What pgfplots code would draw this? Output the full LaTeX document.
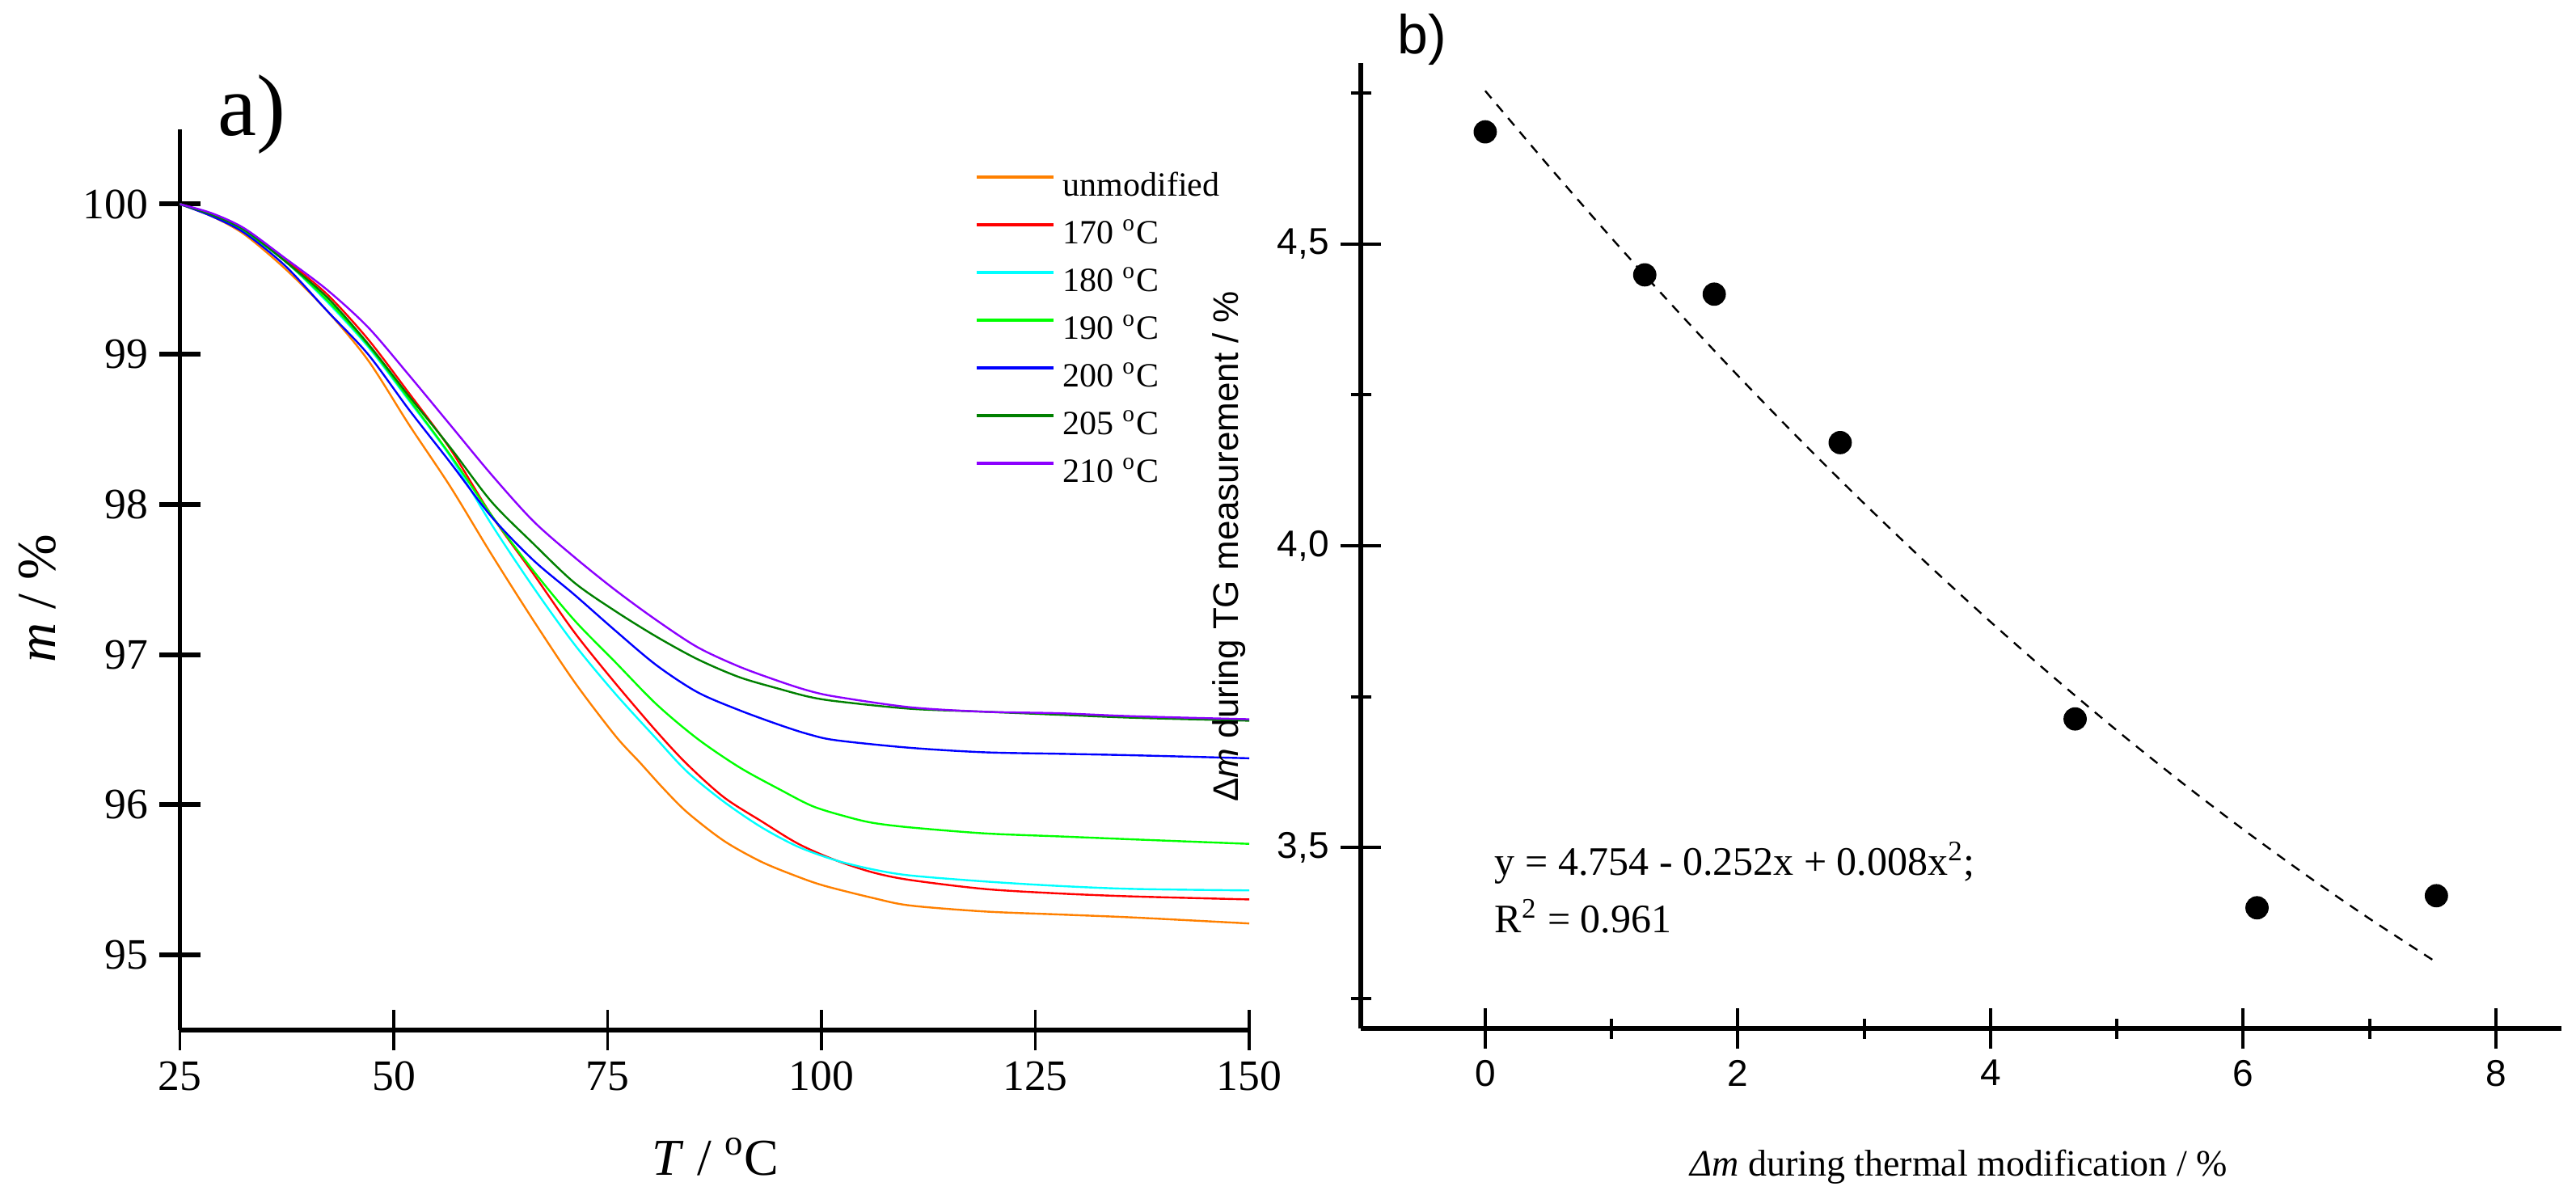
\documentclass[border=0pt]{standalone}
\usepackage{pgfplots}
\pgfplotsset{compat=1.18}
\usepackage{fontspec}
\setmainfont{Liberation Serif}
\newfontfamily\arial{Liberation Sans}
\definecolor{corange}{RGB}{255,128,0}
\definecolor{cred}{RGB}{255,0,0}
\definecolor{ccyan}{RGB}{0,255,255}
\definecolor{cgreen}{RGB}{0,255,0}
\definecolor{cblue}{RGB}{0,0,255}
\definecolor{cdgreen}{RGB}{0,128,0}
\definecolor{cpurple}{RGB}{140,0,255}
\begin{document}
\begin{tikzpicture}
\useasboundingbox (0pt,0pt) rectangle (796.5pt,-369.25pt);
\begin{axis}[
  at={(55.625pt,-318.5pt)}, anchor=south west,
  scale only axis, width=330.625pt, height=278.6pt,
  xmin=25, xmax=150, ymin=94.5, ymax=100.5,
  axis x line=bottom, axis y line=left,
  axis line style={-},
  x axis line style={line width=1.3pt},
  y axis line style={line width=1.2pt},
  tick align=center,
  major tick length=12.5pt,
  xtick={25,50,75,100,125,150},
  ytick={95,96,97,98,99,100},
  minor tick num=0,
  xtick style={line width=0.8pt, black},
  ytick style={line width=1.5pt, black},
  /pgf/number format/assume math mode=true,
  ticklabel style={font=\fontsize{13.4}{15}\selectfont},
  xlabel={\textit{T} / \textsuperscript{o}C},
  ylabel={\textit{m} / \%},
  xlabel style={font=\fontsize{16}{18}\selectfont, at={(axis description cs:0.501,-0.141)}, anchor=center},
  ylabel style={font=\fontsize{17}{19}\selectfont, at={(axis description cs:-0.1335,0.479)}, anchor=center},
  legend style={at={(axis description cs:0.743,0.955)}, anchor=north west, draw=none, fill=none,
    font=\fontsize{10.5}{12}\selectfont, inner sep=0pt, row sep=4.75pt, column sep=2.5pt,
    nodes={inner sep=0pt, text height=8pt, text depth=2pt}},
  legend cell align=left,
  legend image code/.code={\draw[#1, line width=1pt] (0pt,3pt) -- (23.75pt,3pt);},
  every axis plot/.append style={line width=0.6pt, smooth, tension=0.5},
]
\addplot[corange] coordinates {(25,100) (28.7,99.92) (32.5,99.80) (37.3,99.57) (42.2,99.29) (47.0,98.96) (51.8,98.53) (56.6,98.12) (61.4,97.67) (66.3,97.23) (71.1,96.82) (75.9,96.46) (78.8,96.28) (81.5,96.11) (84.3,95.95) (88.6,95.76) (93.0,95.62) (97.3,95.52) (100.4,95.46) (106.0,95.38) (110.3,95.33) (119.0,95.29) (127.7,95.27) (136.4,95.25) (150,95.21)};
\addlegendentry{unmodified}
\addplot[cred] coordinates {(25,100) (28.7,99.93) (32.5,99.83) (37.3,99.63) (42.2,99.40) (47.0,99.10) (51.8,98.74) (56.6,98.37) (61.4,97.93) (66.3,97.54) (71.1,97.15) (75.9,96.81) (80.7,96.49) (84.3,96.27) (88.6,96.05) (93.0,95.89) (97.3,95.74) (101.7,95.63) (106.0,95.55) (110.3,95.50) (119.0,95.44) (127.7,95.41) (136.4,95.39) (150,95.37)};
\addlegendentry{170 \textsuperscript{o}C}
\addplot[ccyan] coordinates {(25,100) (28.7,99.93) (32.5,99.82) (37.3,99.62) (42.2,99.35) (47.0,99.05) (51.8,98.69) (56.6,98.32) (61.4,97.87) (66.3,97.45) (71.1,97.07) (75.9,96.74) (80.7,96.44) (84.3,96.22) (88.6,96.02) (93.0,95.85) (97.3,95.72) (101.7,95.63) (106.0,95.57) (110.3,95.53) (119.0,95.49) (127.7,95.46) (136.4,95.44) (150,95.43)};
\addlegendentry{180 \textsuperscript{o}C}
\addplot[cgreen] coordinates {(25,100) (28.7,99.93) (32.5,99.82) (37.3,99.62) (42.2,99.36) (47.0,99.06) (51.8,98.70) (56.6,98.33) (61.4,97.93) (66.3,97.56) (71.1,97.23) (75.9,96.95) (80.7,96.67) (85.5,96.44) (90.4,96.25) (95.2,96.10) (99.0,95.99) (103.0,95.92) (106.0,95.88) (110.3,95.85) (119.0,95.81) (127.7,95.79) (136.4,95.77) (150,95.74)};
\addlegendentry{190 \textsuperscript{o}C}
\addplot[cblue] coordinates {(25,100) (28.7,99.92) (32.5,99.81) (37.3,99.59) (42.2,99.29) (47.0,99.00) (51.8,98.63) (56.6,98.28) (61.4,97.92) (66.3,97.63) (71.1,97.40) (75.9,97.16) (80.7,96.93) (85.5,96.75) (90.4,96.63) (95.2,96.53) (98.5,96.47) (101.7,96.43) (110.3,96.38) (119.0,96.35) (127.7,96.34) (136.4,96.33) (150,96.31)};
\addlegendentry{200 \textsuperscript{o}C}
\addplot[cdgreen] coordinates {(25,100) (28.7,99.93) (32.5,99.83) (37.3,99.62) (42.2,99.38) (47.0,99.07) (51.8,98.72) (56.6,98.38) (61.4,98.02) (66.3,97.74) (71.1,97.48) (75.9,97.29) (80.7,97.12) (85.5,96.97) (90.4,96.85) (95.2,96.77) (98.5,96.72) (101.7,96.69) (110.3,96.64) (119.0,96.62) (127.7,96.60) (136.4,96.58) (150,96.56)};
\addlegendentry{205 \textsuperscript{o}C}
\addplot[cpurple] coordinates {(25,100) (28.7,99.94) (32.5,99.84) (37.3,99.64) (42.2,99.43) (47.0,99.18) (51.8,98.86) (56.6,98.53) (61.4,98.20) (66.3,97.89) (71.1,97.65) (75.9,97.43) (80.7,97.23) (85.5,97.05) (90.4,96.92) (95.2,96.82) (98.5,96.76) (101.7,96.72) (110.3,96.65) (119.0,96.62) (127.7,96.61) (136.4,96.59) (150,96.57)};
\addlegendentry{210 \textsuperscript{o}C}
\end{axis}
\node[font=\fontsize{27}{30}\selectfont, inner sep=0pt] at (77.75pt,-35.5pt) {a)};
\begin{axis}[
  at={(420.75pt,-318pt)}, anchor=south west,
  scale only axis, width=371.25pt, height=298.5pt,
  xmin=-0.985, xmax=8.52, ymin=3.2, ymax=4.8,
  axis x line=bottom, axis y line=left,
  axis line style={-, line width=1.5pt},
  tick align=center,
  major tick length=12.5pt, minor tick length=6.25pt,
  xtick={0,2,4,6,8}, xticklabels={0,2,4,6,8},
  minor xtick={1,3,5,7},
  ytick={3.5,4,4.5}, yticklabels={{3,5},{4,0},{4,5}},
  minor ytick={3.25,3.75,4.25,4.75},
  every tick/.style={line width=1pt, black},
  every minor tick/.style={line width=1pt, black},
  ticklabel style={font=\arial\fontsize{11.5}{13}\selectfont},
  xlabel={\textit{Δm} during thermal modification / \%},
  ylabel={Δ\textit{m} during TG measurement / \%},
  xlabel style={font=\fontsize{11.5}{13}\selectfont, at={(axis description cs:0.498,-0.143)}, anchor=center},
  ylabel style={font=\arial\fontsize{11}{13}\selectfont, at={(axis description cs:-0.11,0.499)}, anchor=center},
]
\addplot[black, line width=0.6pt, dash pattern=on 3pt off 2.5pt, smooth] coordinates {(0,4.754) (0.5,4.630) (1,4.510) (1.5,4.394) (2,4.282) (2.5,4.174) (3,4.070) (3.5,3.970) (4,3.874) (4.5,3.782) (5,3.694) (5.5,3.610) (6,3.530) (6.5,3.454) (7,3.382) (7.52,3.311)};
\addplot[only marks, mark=*, mark size=3.4pt, black] coordinates {(0,4.686) (1.263,4.449) (1.813,4.417) (2.81,4.171) (4.67,3.713) (6.11,3.400) (7.53,3.420)};
\end{axis}
\node[font=\arial\fontsize{17}{19}\selectfont, inner sep=0pt] at (439.75pt,-12.25pt) {b)};
\node[font=\fontsize{12.5}{15}\selectfont, inner sep=0pt, anchor=base west] at (462pt,-270.5pt) {y = 4.754 - 0.252x + 0.008x\textsuperscript{2};};
\node[font=\fontsize{12.5}{15}\selectfont, inner sep=0pt, anchor=base west] at (462pt,-288.25pt) {R\textsuperscript{2} = 0.961};
\end{tikzpicture}
\end{document}
